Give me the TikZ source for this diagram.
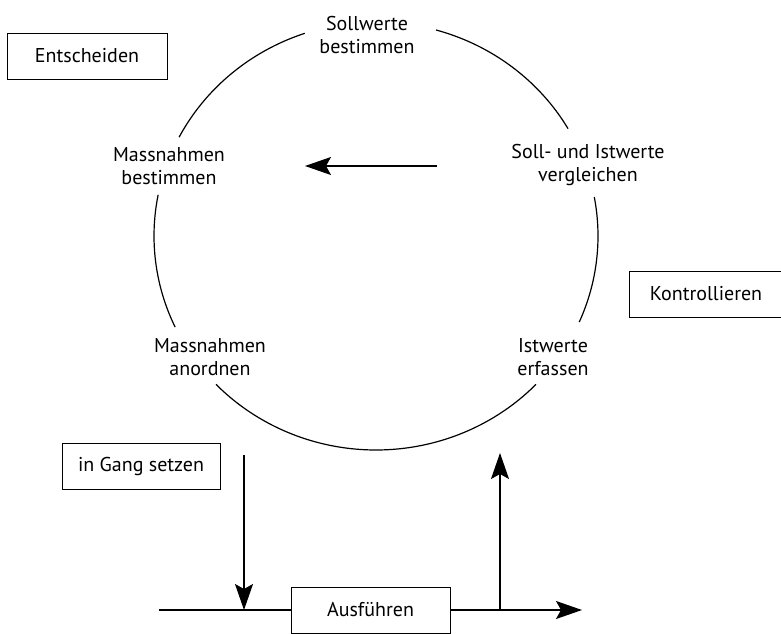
\documentclass[tikz,border=0pt]{standalone}
\usepackage{fontspec}
\setmainfont{PT Sans}
\usetikzlibrary{arrows.meta}
\tikzset{
  phase/.style={align=center,inner sep=2pt,font=\fontsize{20}{23.5}\selectfont},
  task/.style={draw=black,line width=0.9pt,minimum height=46pt,inner sep=2pt,font=\fontsize{20}{23.5}\selectfont},
  ring/.style={line width=1.2pt},
  flow/.style={line width=1.2pt,-{Stealth[length=26pt,width=18pt,inset=5pt]}},
}

\begin{document}
\begin{tikzpicture}[x=1pt,y=1pt]
  \useasboundingbox (0,0) rectangle (781,633);

  % steps on the cycle
  \node[phase] (soll)  at (367,598) {Sollwerte\\bestimmen};
  \node[phase] (mbest) at (169,467) {Massnahmen\\bestimmen};
  \node[phase] (vergl) at (588,468) {Soll- und Istwerte\\vergleichen};
  \node[phase] (anord) at (210,276) {Massnahmen\\anordnen};
  \node[phase] (ist)   at (553,276) {Istwerte\\erfassen};
  % cycle, broken at the steps
  \coordinate (mid) at (376,397);
  \foreach \a/\b in {74.3/30.1, 10.5/-23.7, -43.9/-136.1, 205.2/168.9, 152.5/108.7}
    \draw[ring] (mid) ++(\a:222 and 214) arc[start angle=\a,end angle=\b,x radius=222,y radius=214];
  % comparison leads to measures
  \coordinate (cmpout) at (437,467);
  \coordinate (cmpin)  at (305,467);
  \draw[flow] (cmpout) -- (cmpin);

  % phase boxes
  \node[task,minimum width=160pt] (ent)  at (87,577)   {Entscheiden};
  \node[task,minimum width=154pt] (kon)  at (706,339)  {Kontrollieren};
  \node[task,minimum width=158pt] (gang) at (141,167)  {in Gang setzen};
  \node[task,minimum width=159pt] (ausf) at (370.5,23) {Ausführen};

  % execution line
  \coordinate (lin)  at (159,23);
  \coordinate (lout) at (582,23);
  \draw[ring] (lin) -- (ausf.west);
  \draw[flow] (ausf.east) -- (lout);
  \coordinate (start)    at (244,178);
  \coordinate (feedback) at (500,180);
  \draw[flow] (start) -- (start |- ausf.west);
  \draw[flow] (feedback |- ausf.east) -- (feedback);
\end{tikzpicture}
\end{document}
